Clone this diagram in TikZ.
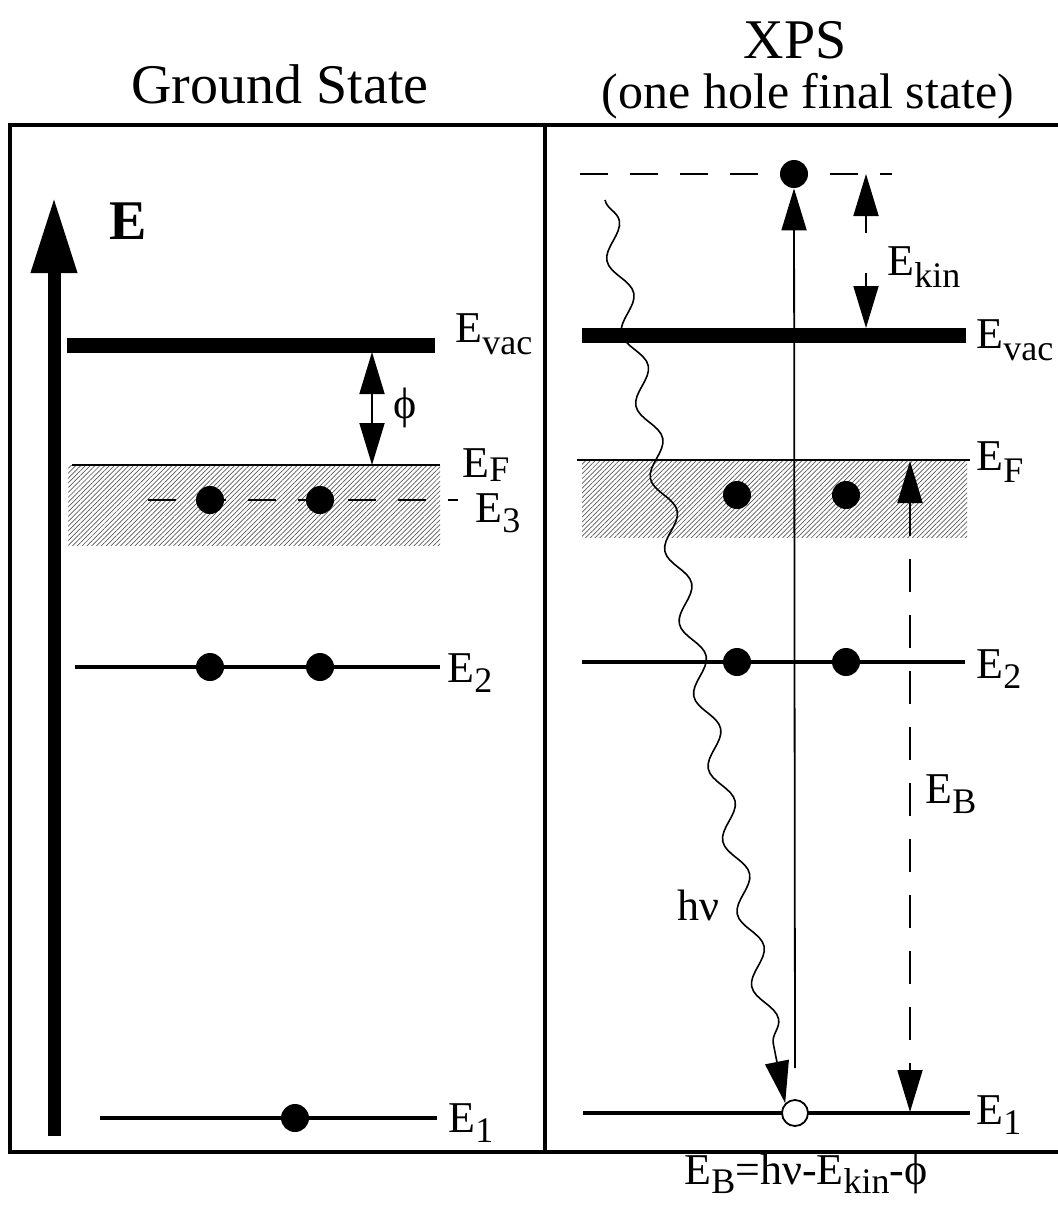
\documentclass[tikz,border=0pt]{standalone}
\usepackage{fontspec}
\setmainfont{Liberation Serif}
\usetikzlibrary{arrows.meta,patterns.meta,decorations.pathmorphing}
\newcommand\sbs[2][6pt]{\raisebox{-#1}{\fontsize{18}{18}\selectfont #2}}
\begin{document}
\begin{tikzpicture}[x=0.5pt,y=-0.5pt,
  frame/.style={line width=1.6pt},
  bar/.style={line width=7.5pt},
  lvl/.style={line width=2pt},
  fermi/.style={line width=0.9pt},
  band/.style={pattern={Lines[angle=45,distance=1.7pt,line width=0.35pt]},pattern color=black!65},
  dashlvl/.style={line width=1pt,dash pattern=on 14pt off 11pt},
  thinline/.style={line width=0.9pt},
  dot/.style={circle,fill=black,inner sep=0pt,minimum size=14pt},
  hole/.style={circle,draw=black,fill=white,line width=0.9pt,inner sep=0pt,minimum size=13pt},
  tip/.style={-{Triangle[length=21pt,width=12.5pt]}},
  dtip/.style={{Triangle[length=21pt,width=12.5pt]}-{Triangle[length=21pt,width=12.5pt]}},
  lab/.style={anchor=base west,inner sep=0pt,font=\fontsize{22}{22}\selectfont},
  title/.style={anchor=base,inner sep=0pt,font=\fontsize{28}{28}\selectfont},
]
\useasboundingbox (0,0) rectangle (1058,1205);

% frame
\draw[frame] (1058,125) -- (10,125) -- (10,1152) -- (1058,1152);
\draw[frame] (545,125) -- (545,1152);

% titles
\node[title] (tgs) at (280,103) {Ground State};
\node[title] (txps) at (795,58) {XPS};
\node[title,font=\fontsize{25}{25}\selectfont] (tone) at (808,108) {(one hole final state)};

% energy axis
\coordinate (ax0) at (54,1136);
\coordinate (ax1) at (54,197);
\draw[line width=6.5pt,-{Triangle[length=38pt,width=21.5pt]}] (ax0) -- (ax1);
\node[font=\fontsize{28}{28}\selectfont\bfseries] (Elab) at (128,221) {E};

% ---------- ground state ----------
\draw[bar] (67,345) -- (435,345);
\path[band] (68,465) rectangle (440,545);
\draw[fermi] (72,465) -- (440,465);
\draw[dashlvl] (148,500) -- (458,500);
\node[dot] (g31) at (210,500) {};
\node[dot] (g32) at (320,500) {};
\draw[lvl] (75,667) -- (440,667);
\node[dot] (g21) at (210,667) {};
\node[dot] (g22) at (320,667) {};
\draw[lvl] (100,1118) -- (437,1118);
\node[dot] (g11) at (295,1118) {};

\coordinate (phiT) at (372,352);
\coordinate (phiB) at (372,465);
\draw[thinline,dtip] (phiT) -- (phiB);
\node[lab] (philab) at (393,418) {ϕ};

\node[lab] (lvac) at (455,342) {E\sbs{vac}};
\node[lab] (lF) at (462,477) {E\sbs[2pt]{F}};
\node[lab] (l3) at (475,522) {E\sbs[5pt]{3}};
\node[lab] (l2) at (447,682) {E\sbs[5pt]{2}};
\node[lab] (l1) at (448,1132) {E\sbs[5pt]{1}};

% ---------- XPS ----------
\draw[dashlvl] (580,174) -- (892,174);
\node[dot] (pe) at (794,174) {};
\draw[bar] (582,335) -- (966,335);
\path[band] (582,460) rectangle (967,537);
\draw[fermi] (577,460) -- (970,460);
\node[dot] (x31) at (737,495) {};
\node[dot] (x32) at (846,495) {};
\draw[lvl] (582,662) -- (965,662);
\node[dot] (x21) at (737,662) {};
\node[dot] (x22) at (846,662) {};
\draw[lvl] (583,1113) -- (970,1113);
\node[hole] (hole) at (795,1113) {};

% photoelectron
\coordinate (pe0) at (795,1068);
\draw[thinline,tip] (pe0) -- (pe.south);

% E_kin
\coordinate (k1) at (866,233);
\coordinate (k1t) at (866,174);
\coordinate (k2) at (866,273);
\coordinate (k2t) at (866,328);
\draw[thinline,tip] (k1) -- (k1t);
\draw[thinline,tip] (k2) -- (k2t);
\node[lab] (lkin) at (887,275) {E\sbs{kin}};

% E_B
\coordinate (bT) at (910,461);
\coordinate (bB) at (910,1112);
\draw[thinline,dash pattern=on 16.5pt off 11.5pt,dtip] (bT) -- (bB);
\node[lab] (lB) at (925,803) {E\sbs[5pt]{B}};

% photon
\coordinate (ws) at (605,200);
\draw[line width=0.8pt,decorate,decoration={snake,amplitude=5pt,segment length=37pt,post length=20pt},-{Triangle[length=21pt,width=12pt]}] (ws) -- (hole.north west);
\node[lab] (lhv) at (677,920) {hν};

\node[lab] (rvac) at (976,348) {E\sbs{vac}};
\node[lab] (rF) at (976,470) {E\sbs{F}};
\node[lab] (r2) at (976,678) {E\sbs[5pt]{2}};
\node[lab] (r1) at (976,1124) {E\sbs[5pt]{1}};

\node[anchor=base,inner sep=0pt,font=\fontsize{22}{22}\selectfont] (eq) at (806,1184) {E\sbs[4.5pt]{B}=hν-E\sbs[4.5pt]{kin}-ϕ};
\end{tikzpicture}
\end{document}
